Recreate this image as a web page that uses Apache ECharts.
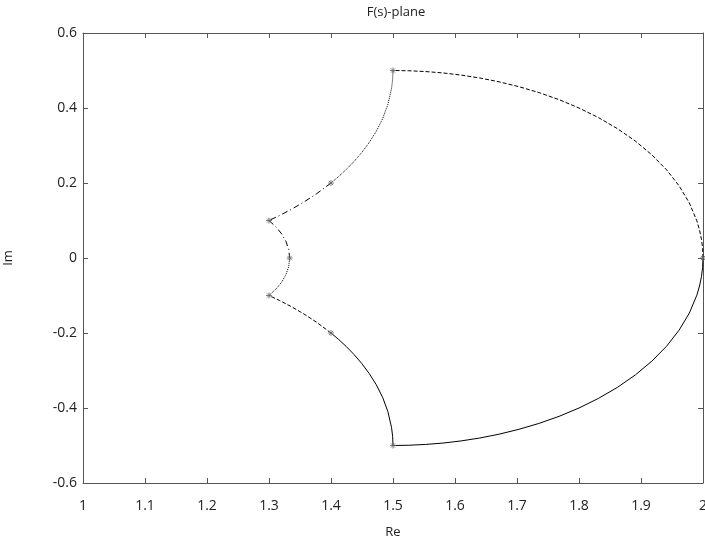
<!DOCTYPE html>
<html><head><meta charset="utf-8">
<script src="https://cdn.jsdelivr.net/npm/echarts@6/dist/echarts.min.js"></script>
<style>html,body{margin:0;padding:0;background:#fff}#c{width:705px;height:547px}</style>
</head><body><div id="c"></div>
<script>
// Upper big arc (2,0) -> (1.5,0.5)
var arcUpper = [[2,0],[1.9994,0.0250],[1.9975,0.0499],[1.9944,0.0746],[1.9901,0.0990],[1.9780,0.1467],[1.9615,0.1923],[1.9412,0.2353],[1.9174,0.2752],[1.8909,0.3118],[1.8621,0.3448],[1.8316,0.3742],[1.8000,0.4000],[1.7678,0.4223],[1.7353,0.4412],[1.7030,0.4569],[1.6711,0.4698],[1.6400,0.4800],[1.6098,0.4878],[1.5806,0.4935],[1.5525,0.4972],[1.5256,0.4993],[1.5,0.5]];
// Lower big arc (2,0) -> (1.5,-0.5)
var arcLower = [[2,0],[1.9994,-0.0250],[1.9975,-0.0499],[1.9944,-0.0746],[1.9901,-0.0990],[1.9780,-0.1467],[1.9615,-0.1923],[1.9412,-0.2353],[1.9174,-0.2752],[1.8909,-0.3118],[1.8621,-0.3448],[1.8316,-0.3742],[1.8000,-0.4000],[1.7678,-0.4223],[1.7353,-0.4412],[1.7030,-0.4569],[1.6711,-0.4698],[1.6400,-0.4800],[1.6098,-0.4878],[1.5806,-0.4935],[1.5525,-0.4972],[1.5256,-0.4993],[1.5,-0.5]];
// (1.5,0.5) -> (1.4,0.2)
var segB = [[1.5,0.5],[1.4994,0.4756],[1.4977,0.4525],[1.4918,0.4098],[1.4833,0.3717],[1.4730,0.3378],[1.4615,0.3077],[1.4494,0.2809],[1.4370,0.2571],[1.4245,0.2358],[1.4121,0.2169],[1.4,0.2]];
var segBl = [[1.5,-0.5],[1.4994,-0.4756],[1.4977,-0.4525],[1.4918,-0.4098],[1.4833,-0.3717],[1.4730,-0.3378],[1.4615,-0.3077],[1.4494,-0.2809],[1.4370,-0.2571],[1.4245,-0.2358],[1.4121,-0.2169],[1.4,-0.2]];
// (1.4,0.2) -> (1.3,0.1)
var segC = [[1.4,0.2],[1.3767,0.1712],[1.3550,0.1479],[1.3351,0.1289],[1.3167,0.1131],[1.3,0.1]];
var segCl = [[1.4,-0.2],[1.3767,-0.1712],[1.3550,-0.1479],[1.3351,-0.1289],[1.3167,-0.1131],[1.3,-0.1]];
// (1.3,0.1) -> (1.333,0)
var segD = [[1.3,0.1],[1.3112,0.0830],[1.3205,0.0641],[1.3275,0.0437],[1.3319,0.0221],[1.3333,0]];
var segDl = [[1.3,-0.1],[1.3112,-0.0830],[1.3205,-0.0641],[1.3275,-0.0437],[1.3319,-0.0221],[1.3333,0]];
// marked points
var markers = [[2,0],[1.5,0.5],[1.4,0.2],[1.3,0.1],[1.3333,0],[1.3,-0.1],[1.4,-0.2],[1.5,-0.5]];
var xTicks = [1,1.1,1.2,1.3,1.4,1.5,1.6,1.7,1.8,1.9,2];
var yTicks = [-0.6,-0.4,-0.2,0,0.2,0.4,0.6];

var FONT = 'Open Sans';
var dashDot = [6,3,1,3];
function seg(data, type){
  return {type:'line', data:data, showSymbol:false, symbol:'none', smooth:false,
    lineStyle:{color:'#000', width:1, type:type}, silent:true, animation:false, z:3};
}
function axisCommon(){
  return {
    type:'value', axisLine:{show:true, onZero:false, lineStyle:{color:'#555', width:1}},
    axisTick:{show:true, inside:true, length:5, lineStyle:{color:'#555'}},
    splitLine:{show:false}
  };
}
var chart = echarts.init(document.getElementById('c'));
chart.setOption({
  animation:false,
  backgroundColor:'#fff',
  title:{text:'F(s)-plane', left:391, top:1, textAlign:'center',
    textStyle:{fontFamily:FONT, fontSize:13, fontWeight:'normal', color:'#222'}},
  grid:{left:83, right:2, top:33, bottom:64, containLabel:false, outerBoundsMode:'none'},
  xAxis:[
    Object.assign(axisCommon(), {min:1, max:2, interval:0.1, position:'bottom',
      name:'Re', nameLocation:'middle', nameGap:43,
      nameTextStyle:{fontFamily:FONT, fontSize:13, color:'#222'},
      axisLabel:{fontFamily:FONT, fontSize:14, color:'#222', margin:16,
        formatter:function(v){return String(Math.round(v*10)/10);}}}),
    Object.assign(axisCommon(), {min:1, max:2, interval:0.1, position:'top', axisLabel:{show:false}})
  ],
  yAxis:[
    Object.assign(axisCommon(), {min:-0.6, max:0.6, interval:0.2, position:'left',
      name:'Im', nameLocation:'middle', nameGap:68,
      nameTextStyle:{fontFamily:FONT, fontSize:13, color:'#222'},
      axisLabel:{fontFamily:FONT, fontSize:14, color:'#222', margin:6,
        formatter:function(v){var r=Math.round(v*10)/10; return String(r===0?0:r);}}}),
    Object.assign(axisCommon(), {min:-0.6, max:0.6, interval:0.2, position:'right', axisLabel:{show:false}})
  ],
  series:[
    seg(arcUpper,'dashed'),
    seg(arcLower,'solid'),
    seg(segB,'dotted'),
    seg(segBl,'solid'),
    seg(segC,dashDot),
    seg(segCl,'dashed'),
    seg(segD,dashDot),
    seg(segDl,'dotted'),
    {type:'scatter', data:markers, symbol:'path://M0,-1L0,1M-1,0L1,0M-0.7,-0.7L0.7,0.7M-0.7,0.7L0.7,-0.7',
     symbolSize:6, itemStyle:{color:'none', borderColor:'#666', borderWidth:1}, silent:true, z:4}
  ]
});
</script></body></html>
